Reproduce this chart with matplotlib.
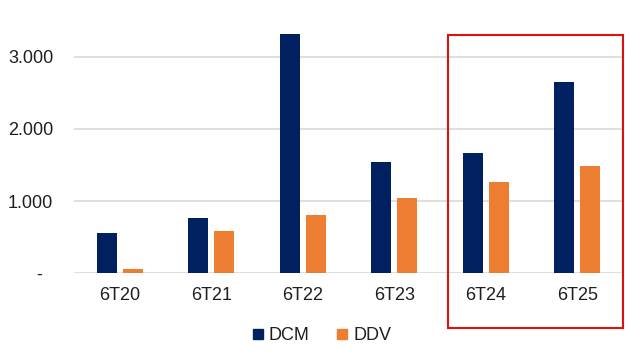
import matplotlib
matplotlib.use("Agg")
import matplotlib.pyplot as plt
from matplotlib.patches import Rectangle
from matplotlib.lines import Line2D
import numpy as np

categories = ["6T20", "6T21", "6T22", "6T23", "6T24", "6T25"]
dcm = [562, 762, 3310, 1537, 1662, 2650]
ddv = [60, 590, 812, 1047, 1264, 1490]
yticks = [0, 1000, 2000, 3000]
ytick_labels = ["-  ", "1.000", "2.000", "3.000"]

navy = "#002060"
orange = "#ED7D31"
grid_c = "#d9d9d9"

plt.rcParams['font.family'] = ['Liberation Sans', 'DejaVu Sans']

fig = plt.figure(figsize=(6.4, 3.6), dpi=100)
ax = fig.add_axes([74/640, 1-273.3/360, (623-74)/640, (273.3-20.6)/360])

x = np.arange(len(categories))
w = 0.22
gap = 0.065
ax.bar(x - (w+gap)/2, dcm, width=w, color=navy, label="DCM", zorder=3)
ax.bar(x + (w+gap)/2, ddv, width=w, color=orange, label="DDV", zorder=3)

ax.set_xlim(-0.5, len(categories)-0.5)
ax.set_ylim(0, 3500)
ax.set_yticks(yticks)
ax.set_yticklabels(ytick_labels)
ax.set_xticks(x)
ax.set_xticklabels(categories)
ax.tick_params(axis='both', length=0, labelsize=13, colors="#1f1f1f")
ax.tick_params(axis='y', pad=15)
ax.tick_params(axis='x', pad=10)
for s in ax.spines.values():
    s.set_visible(False)
ax.yaxis.grid(True, color=grid_c, linewidth=1.2, zorder=0)
ax.set_axisbelow(True)

handles = [Line2D([], [], marker='s', linestyle='none', markersize=7, color=navy),
           Line2D([], [], marker='s', linestyle='none', markersize=7, color=orange)]
fig.legend(handles, ["DCM", "DDV"], loc='center', bbox_to_anchor=(0.5, 24/360),
           ncol=2, frameon=False, fontsize=13, handletextpad=0.1,
           columnspacing=1.3, handlelength=1.0, labelcolor="#1f1f1f")

rect = Rectangle((448/640, 1-328/360), (623-448)/640, (328-35)/360,
                 transform=fig.transFigure, fill=False, edgecolor="#e01010",
                 linewidth=1.5, zorder=10)
fig.patches.append(rect)

fig.savefig("out.png", dpi=100)
